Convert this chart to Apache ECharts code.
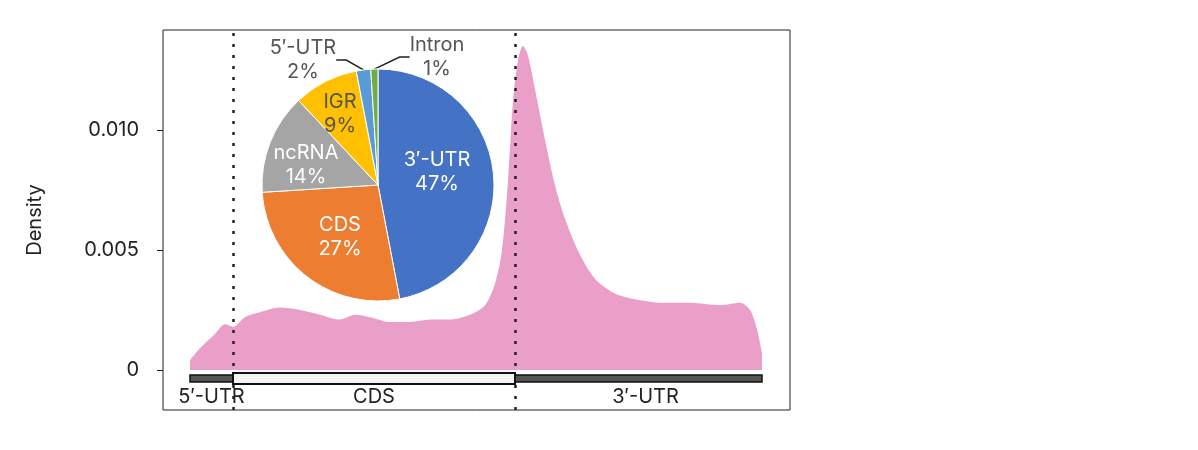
<!DOCTYPE html><html><head><meta charset="utf-8"><script src="https://cdn.jsdelivr.net/npm/echarts@6/dist/echarts.min.js"></script></head><body style="margin:0"><div id="c" style="width:1198px;height:450px"></div><script>
var posX=[190,200,215,225,233,245,260,280,300,320,340,355,370,390,410,430,450,470,485,495,502,508,513,518,523,528,535,545,555,565,580,595,610,620,640,660,690,720,740,750,757,762];
var dens=[0.0004,0.0009,0.0015,0.0019,0.0018,0.0022,0.0024,0.0026,0.0025,0.0023,0.0021,0.0023,0.0022,0.0020,0.0020,0.0021,0.0021,0.0023,0.0027,0.0036,0.0050,0.0079,0.0112,0.0129,0.0135,0.0131,0.0117,0.0096,0.0077,0.0063,0.0048,0.0038,0.0033,0.0031,0.0029,0.0028,0.0028,0.0027,0.0028,0.0025,0.0017,0.0007];
var regionNames=['5′-UTR','CDS','3′-UTR'];
var regionStart=[190,233,515];
var regionEnd=[233,515,762];
var boundaries=[233,515];
var yTicks=[0,0.005,0.010];
var yTickLabels=['0','0.005','0.010'];
var pieNames=['3′-UTR','CDS','ncRNA','IGR','5′-UTR','Intron'];
var pieValues=[47,27,14,9,2,1];
var pieColors=['#4472C4','#ED7D31','#A5A5A5','#FFC000','#5B9BD5','#70AD47'];
var F='Inter, Noto Sans, sans-serif';
var FS=20;
var ch=echarts.init(document.getElementById('c'));
var pieData=pieNames.map(function(n,i){
  var d={name:n,value:pieValues[i],itemStyle:{color:pieColors[i]}};
  if(i>=4){d.label={position:'outside',color:'#555'};d.labelLine={show:true};}
  else {d.label={position:'inside',color:i==3?'#555':'#fff'};d.labelLine={show:false};}
  return d;});
ch.setOption({
 animation:false,
 grid:{left:163,right:408,top:30,bottom:40,show:true,borderColor:'#222',borderWidth:1},
 xAxis:{type:'value',min:163,max:790,show:false},
 yAxis:{type:'value',min:-0.00167,max:0.01417,splitLine:{show:false},axisLine:{show:false},
   axisTick:{show:true,customValues:yTicks,length:6,lineStyle:{color:'#222'}},
   axisLabel:{customValues:yTicks,formatter:function(v){var i=yTicks.indexOf(v);return i>=0?yTickLabels[i]:'';},fontSize:FS,color:'#222',fontFamily:F,margin:24},
   name:'Density',nameLocation:'middle',nameGap:118,nameTextStyle:{fontSize:FS,color:'#222',fontFamily:F}},
 series:[
  {type:'line',data:posX.map(function(x,i){return [x,dens[i]];}),smooth:0.3,symbol:'none',lineStyle:{width:0},areaStyle:{color:'#E99FC8',opacity:1},
   markLine:{symbol:'none',silent:true,label:{show:false},lineStyle:{color:'#222',type:[3,8],width:2.5},data:boundaries.map(function(b){return {xAxis:b};})}},
  {type:'custom',data:regionNames.map(function(n,i){return [regionStart[i],regionEnd[i],i];}),
   renderItem:function(p,api){var s=api.coord([api.value(0),0]),e=api.coord([api.value(1),0]);var k=api.value(2);
     var cds=k==1;var y0=s[1]+(cds?3:5),h=cds?11:7;
     return {type:'group',children:[{type:'rect',shape:{x:s[0],y:y0,width:e[0]-s[0],height:h},style:{fill:cds?'#f4f4f4':'#555',stroke:'#111',lineWidth:cds?2:1.5}},
       {type:'text',style:{text:regionNames[k],x:(s[0]+e[0])/2+(k==2?7:0),y:s[1]+27,align:'center',verticalAlign:'middle',fontSize:FS,fill:'#222',fontFamily:F}}]};},z:5},
  {type:'pie',center:[378,185],radius:116,startAngle:90,clockwise:true,data:pieData,
   itemStyle:{borderColor:'#fff',borderWidth:1},
   label:{fontSize:FS,lineHeight:24,fontFamily:F,formatter:function(p){return p.name+'\n'+p.value+'%';}},
   labelLine:{lineStyle:{color:'#222',width:1.5},length:8,length2:10},
   labelLayout:function(p){if(p.dataIndex==4)return {x:303,y:60,align:'center',verticalAlign:'middle'};if(p.dataIndex==5)return {x:437,y:57,align:'center',verticalAlign:'middle'};if(p.dataIndex==2)return {x:306,y:165};if(p.dataIndex==3)return {x:340,y:114};if(p.dataIndex==0)return {x:437,y:172};if(p.dataIndex==1)return {x:340,y:237};return {};},z:10}
 ]});
</script></body></html>
